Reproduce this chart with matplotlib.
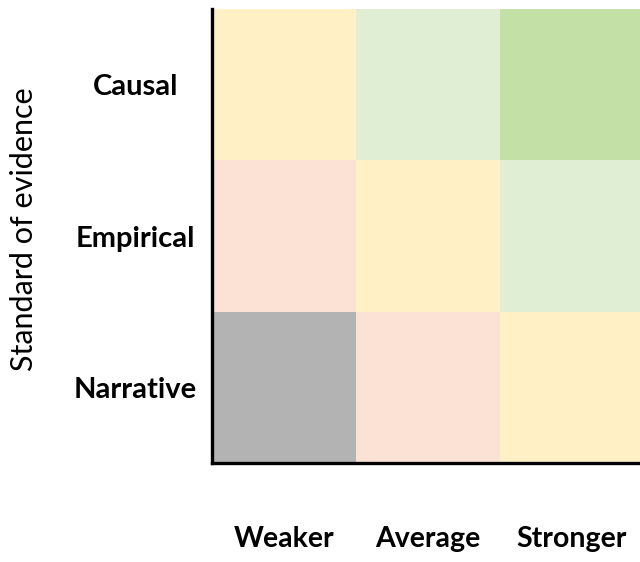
import matplotlib
matplotlib.use("Agg")
import matplotlib.pyplot as plt
from matplotlib.colors import ListedColormap, BoundaryNorm
import numpy as np

# Data
x_labels = ["Weaker", "Average", "Stronger"]
y_labels = ["Narrative", "Empirical", "Causal"]  # bottom to top
# Strength level per cell (rows bottom->top, columns left->right)
narrative_row = [0, 1, 2]
empirical_row = [1, 2, 3]
causal_row = [2, 3, 4]
level_colors = ["#B3B3B3", "#FBE2D5", "#FFF0C6", "#E0EED4", "#C3E0A6"]

grid = np.array([narrative_row, empirical_row, causal_row])

fig = plt.figure(figsize=(6.4, 5.62), dpi=100)
W, H = 640, 562
left, right, top, bottom = 212, 644, 9, 463
ax = fig.add_axes([left / W, (H - bottom) / H, (right - left) / W, (bottom - top) / H])

cmap = ListedColormap(level_colors)
norm = BoundaryNorm(np.arange(-0.5, len(level_colors) + 0.5, 1), cmap.N)
ax.pcolormesh(np.arange(len(x_labels) + 1), np.arange(len(y_labels) + 1), grid,
              cmap=cmap, norm=norm, shading="flat")
ax.set_xlim(0, len(x_labels))
ax.set_ylim(0, len(y_labels))

font = ["Lato", "DejaVu Sans"]
ax.set_xticks(np.arange(len(x_labels)) + 0.5)
ax.set_xticklabels(x_labels, fontsize=20.5, fontweight="bold", family=font)
ax.set_yticks(np.arange(len(y_labels)) + 0.5)
ax.set_yticklabels(y_labels, fontsize=21, fontweight="bold", family=font, ha="center")
ax.tick_params(axis="x", length=0, pad=45.5)
ax.tick_params(axis="y", length=0, pad=55)

ax.set_ylabel("Standard of evidence", fontsize=22, family=font)
ax.yaxis.set_label_coords((38 - left) / (right - left), (bottom - 229) / (bottom - top))

for s in ["top", "right"]:
    ax.spines[s].set_visible(False)
for s in ["left", "bottom"]:
    ax.spines[s].set_linewidth(2.4)
    ax.spines[s].set_color("black")

fig.savefig("out.png", dpi=100)
